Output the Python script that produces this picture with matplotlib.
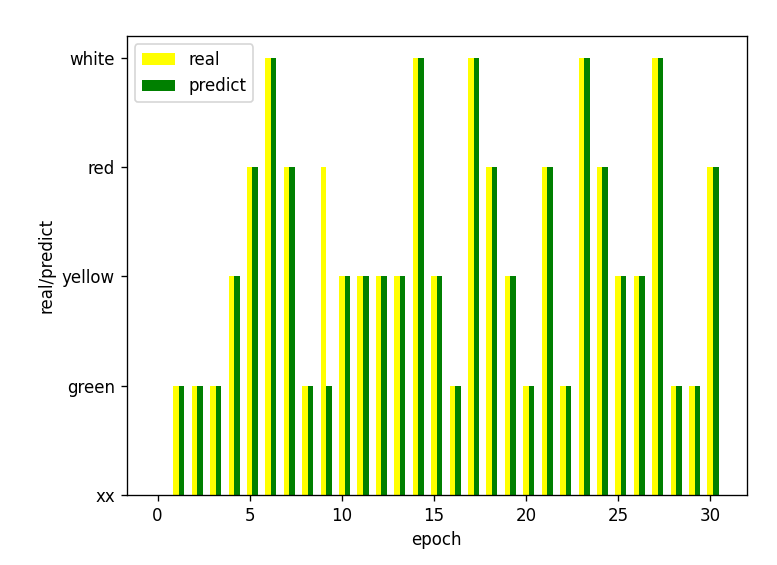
import numpy as np
import matplotlib
matplotlib.use('Agg')
import matplotlib.pyplot as plt

# categories: 0=xx, 1=green, 2=yellow, 3=red, 4=white
labels = ['xx', 'green', 'yellow', 'red', 'white']
epoch = np.arange(0, 31)
real = [0, 1, 1, 1, 2, 3, 4, 3, 1, 3, 2, 2, 2, 2, 4, 2, 1, 4, 3, 2, 1, 3, 1, 4, 3, 2, 2, 4, 1, 1, 3]
predict = [0, 1, 1, 1, 2, 3, 4, 3, 1, 1, 2, 2, 2, 2, 4, 2, 1, 4, 3, 2, 1, 3, 1, 4, 3, 2, 2, 4, 1, 1, 3]

fig = plt.figure(figsize=(777 / 120, 565 / 120), dpi=120)
ax = fig.add_axes([0.163, 0.124, 0.798, 0.812])

width = 0.3
ax.bar(epoch, real, width=width, color='yellow', label='real')
ax.bar(epoch + width, predict, width=width, color='green', label='predict')

ax.set_yticks(range(len(labels)))
ax.set_yticklabels(labels)
ax.set_xlabel('epoch')
ax.set_ylabel('real/predict')
ax.legend(loc='upper left')

fig.savefig('out.png', dpi=120)
